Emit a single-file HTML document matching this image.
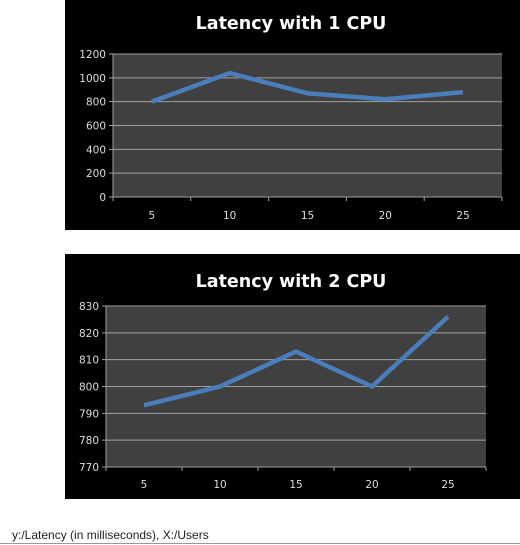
<!DOCTYPE html>
<html><head><meta charset="utf-8"><style>
body{margin:0;width:520px;height:545px;background:#fff;overflow:hidden;font-family:"DejaVu Sans","Liberation Sans",sans-serif;}
svg{position:absolute;left:0;top:0}
</style></head><body>
<svg width="520" height="545">
<g id="c1"></g>
<g id="c2"></g>
<text x="12" y="539" font-size="12" fill="#222" font-family="Liberation Sans, sans-serif">y:/Latency (in milliseconds), X:/Users</text>
<line x1="0" y1="543.5" x2="520" y2="543.5" stroke="#999" stroke-width="1"/>
</svg>
<script>
const categories=[5,10,15,20,25];
const cpu1Values=[800,1040,870,820,880];
const cpu1Ticks=[0,200,400,600,800,1000,1200];
const cpu2Values=[793,800,813,800,826];
const cpu2Ticks=[770,780,790,800,810,820,830];
const NS="http://www.w3.org/2000/svg";
function mk(p,t,a){const e=document.createElementNS(NS,t);for(const k in a)e.setAttribute(k,a[k]);p.appendChild(e);return e;}
function draw(g,box,plot,title,titleY,ticks,vals,xLabY){
  const bg=mk(g,'rect',{x:box[0],y:box[1],width:box[2],height:box[3],fill:'#000'});
  
  
  const t=mk(g,'text',{x:291,y:titleY,'text-anchor':'middle',fill:'#fff','font-size':17.5,'font-weight':'bold','font-family':'DejaVu Sans, sans-serif'});
  t.textContent=title;
  
  
  const [px,py,pw,ph]=plot;
  const pr=mk(g,'rect',{x:px,y:py,width:pw,height:ph,fill:'#404040'});
  
  
  const lo=ticks[0],hi=ticks[ticks.length-1];
  const ys=v=>py+ph-(v-lo)/(hi-lo)*ph;
  const xs=i=>px+(i+0.5)*pw/categories.length;
  ticks.forEach(v=>{
    const y=ys(v);
    const gl=mk(g,'line',{x1:px-4,x2:px+pw,y1:y,y2:y,stroke:'#a0a0a0','stroke-width':1});
    
    
    const tl=mk(g,'text',{x:px-7,y:y+4,'text-anchor':'end',fill:'#ddd','font-size':10.5});
    tl.textContent=v;
    
    
  });
  const ax=mk(g,'line',{x1:px,x2:px,y1:py,y2:py+ph,stroke:'#a0a0a0'});
  
  
  for(let i=0;i<=categories.length;i++){
    const x=px+i*pw/categories.length;
    const tk=mk(g,'line',{x1:x,x2:x,y1:py+ph,y2:py+ph+4,stroke:'#a0a0a0'});
    
    
  }
  categories.forEach((c,i)=>{
    const xl=mk(g,'text',{x:xs(i),y:xLabY,'text-anchor':'middle',fill:'#ddd','font-size':10.5});
    xl.textContent=c;
    
    
  });
  const pts=vals.map((v,i)=>xs(i)+','+ys(v)).join(' ');
  const ln=mk(g,'polyline',{points:pts,fill:'none',stroke:'#4a7ebb','stroke-width':4.5,'stroke-linejoin':'miter'});
  
  
}
draw(document.getElementById('c1'),[65,0,455,230],[113,54,389,143],'Latency with 1 CPU',29,cpu1Ticks,cpu1Values,219);
draw(document.getElementById('c2'),[65,254,455,245],[106,306,380,161],'Latency with 2 CPU',287,cpu2Ticks,cpu2Values,488);
</script>
</body></html>
